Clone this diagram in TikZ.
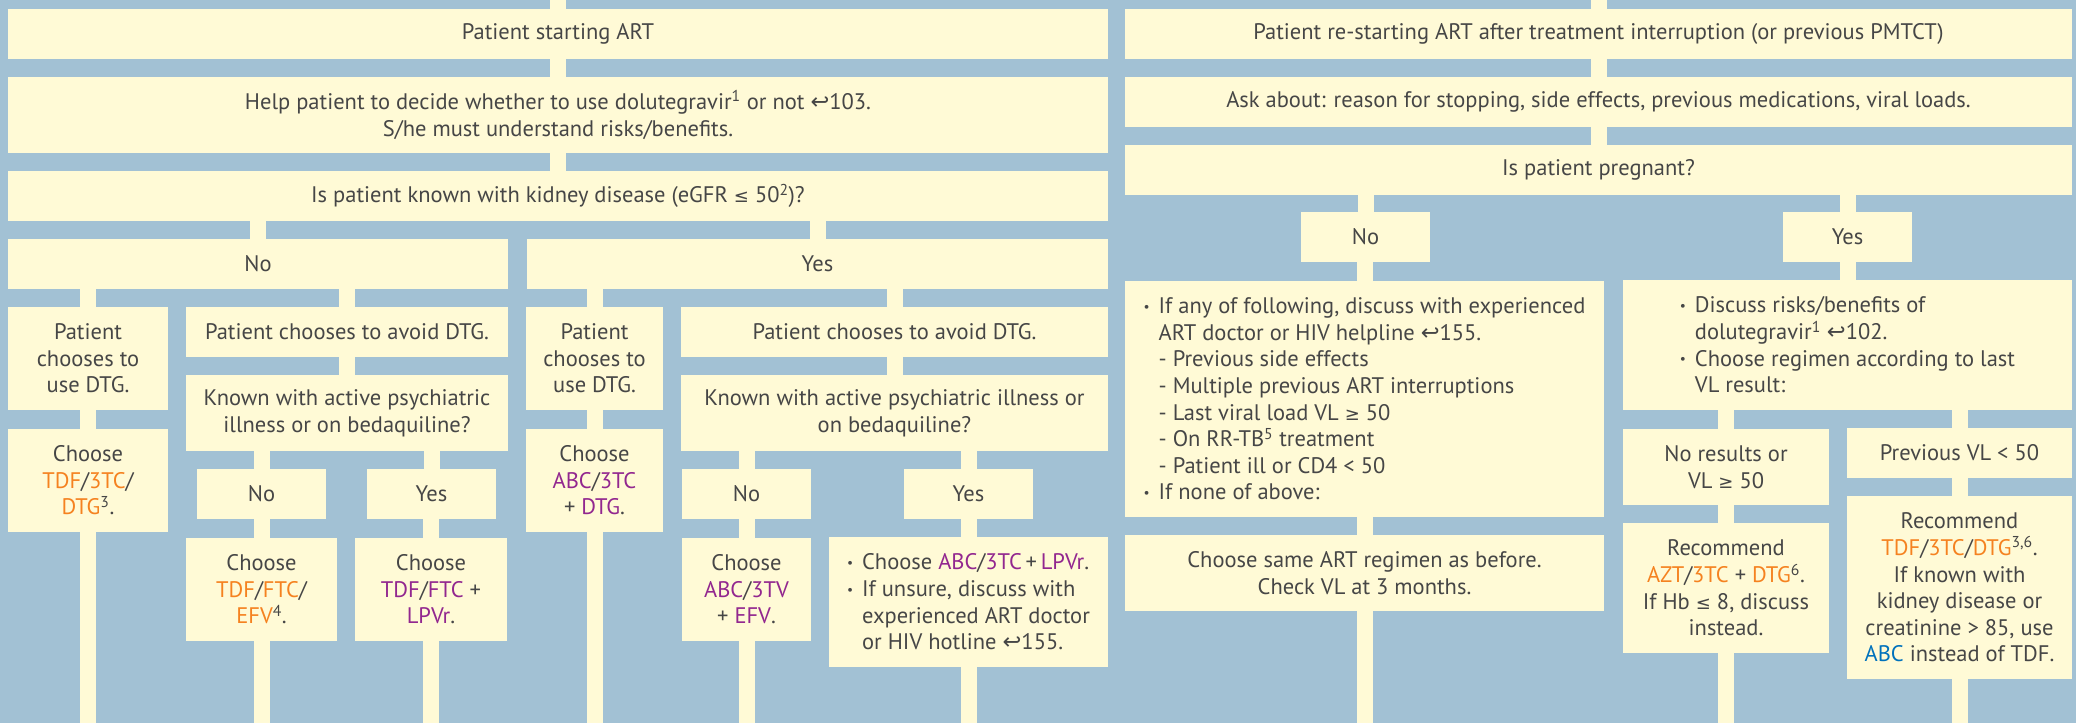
\documentclass[tikz,border=0pt]{standalone}
\usepackage{graphicx}
\usepackage{fontspec}
\setmainfont{PT Sans}
\newfontfamily\symfont{DejaVu Sans}[Scale=0.8]
\newfontfamily\arrowfont{DejaVu Sans}

\definecolor{bgblue}{RGB}{162,193,212}
\definecolor{boxfill}{RGB}{255,250,214}
\definecolor{ink}{RGB}{70,70,70}
\definecolor{drugorange}{RGB}{245,130,32}
\definecolor{drugpurple}{RGB}{146,39,143}
\definecolor{drugblue}{RGB}{0,114,188}

\newcommand\orn[1]{\textcolor{drugorange}{#1}}
\newcommand\prp[1]{\textcolor{drugpurple}{#1}}
\newcommand\blu[1]{\textcolor{drugblue}{#1}}
\newcommand\seepg{{\arrowfont ↩}}
\newcommand\gesym{{\symfont ≥}}
\newcommand\lesym{{\symfont ≤}}
\newcommand\bul{\makebox[15pt][l]{\raisebox{0.2ex}{\scalebox{0.6}{•}}}}
\newcommand\ind{\hspace*{15pt}}

\begin{document}
\begin{tikzpicture}[x=1pt, y=-1pt,
	blk/.style={fill=boxfill, text=ink, inner sep=0pt, align=center,
		font=\fontsize{22.5}{26.6}\selectfont},
	sz/.style 2 args={minimum width=#1pt, minimum height=#2pt},
	link/.style={draw=boxfill, line width=16pt}]
	\fill [bgblue] (0, 0) rectangle (2076, 723);
	\useasboundingbox (0, 0) rectangle (2076, 723);
	\coordinate (top) at (0, 0);
	\coordinate (bottom) at (0, 723);

	% patient starting ART
	\node [blk, sz={1100}{50}] (start) at (558, 34) {Patient starting ART};
	\node [blk, sz={1100}{76}] (help) at (558, 115) {Help patient to decide whether to use dolutegravir\textsuperscript{1} or not \seepg103.\\S/he must understand risks/benefits.};
	\node [blk, sz={1100}{50}] (kidney) at (558, 196) {Is patient known with kidney disease (eGFR \lesym\ 50\textsuperscript{2})?};
	\node [blk, sz={500}{50}] (kno) at (258, 264) {No};
	\node [blk, sz={581}{50}] (kyes) at (817.5, 264) {Yes};

	% no kidney disease
	\node [blk, sz={160}{103}] (nuse) at (88, 358.5) {Patient\\chooses to\\use DTG.};
	\node [blk, sz={160}{103}] (nreg) at (88, 480.5) {Choose\\\orn{TDF}/\orn{3TC}/\\\orn{DTG}\textsuperscript{3}.};
	\node [blk, sz={322}{50}] (navoid) at (347, 332) {Patient chooses to avoid DTG.};
	\node [blk, sz={322}{76}] (npsy) at (347, 413) {Known with active psychiatric\\illness or on bedaquiline?};
	\node [blk, sz={129}{50}] (npno) at (261.5, 494) {No};
	\node [blk, sz={129}{50}] (npyes) at (431.5, 494) {Yes};
	\node [blk, sz={151}{103}] (nefv) at (261.5, 589.5) {Choose\\\orn{TDF}/\orn{FTC}/\\\orn{EFV}\textsuperscript{4}.};
	\node [blk, sz={152}{103}] (nlpv) at (431, 589.5) {Choose\\\prp{TDF}/\prp{FTC} +\\\prp{LPVr}.};

	% kidney disease
	\node [blk, sz={137}{103}] (yuse) at (594.5, 358.5) {Patient\\chooses to\\use DTG.};
	\node [blk, sz={137}{103}] (yreg) at (594.5, 480.5) {Choose\\\prp{ABC}/\prp{3TC}\\+ \prp{DTG}.};
	\node [blk, sz={427}{50}] (yavoid) at (894.5, 332) {Patient chooses to avoid DTG.};
	\node [blk, sz={427}{76}] (ypsy) at (894.5, 413) {Known with active psychiatric illness or\\on bedaquiline?};
	\node [blk, sz={129}{50}] (ypno) at (746.5, 494) {No};
	\node [blk, sz={129}{50}] (ypyes) at (968.5, 494) {Yes};
	\node [blk, sz={129}{103}] (yefv) at (746.5, 589.5) {Choose\\\prp{ABC}/\prp{3TV}\\+ \prp{EFV}.};
	\node [blk, sz={279}{130}, align=left] (ylpv) at (968.5, 602) {\bul Choose \prp{ABC}/\prp{3TC}\,+\,\prp{LPVr}.\\\bul If unsure, discuss with\\\ind experienced ART doctor\\\ind or HIV hotline \seepg155.};

	% patient re-starting ART
	\node [blk, sz={947}{50}] (restart) at (1598.5, 34) {Patient re-starting ART after treatment interruption (or previous PMTCT)};
	\node [blk, sz={947}{50}] (ask) at (1598.5, 102) {Ask about: reason for stopping, side effects, previous medications, viral loads.};
	\node [blk, sz={947}{50}] (preg) at (1598.5, 170) {Is patient pregnant?};
	\node [blk, sz={129}{50}] (pno) at (1365.5, 237) {No};
	\node [blk, sz={129}{50}] (pyes) at (1847.5, 237) {Yes};
	\node [blk, sz={479}{236}, align=left] (pcheck) at (1364.5, 399) {\bul If any of following, discuss with experienced\\\ind ART doctor or HIV helpline \seepg155.\\\ind - Previous side effects\\\ind - Multiple previous ART interruptions\\\ind - Last viral load VL \gesym\ 50\\\ind - On RR-TB\textsuperscript{5} treatment\\\ind - Patient ill or CD4 < 50\\\bul If none of above:};
	\node [blk, sz={479}{76}] (psame) at (1364.5, 573) {Choose same ART regimen as before.\\Check VL at 3 months.};
	\node [blk, sz={449}{130}, align=left] (pdisc) at (1847.5, 345) {\bul Discuss risks/benefits of\\\ind dolutegravir\textsuperscript{1} \seepg102.\\\bul Choose regimen according to last\hspace*{12pt}\\\ind VL result:};
	\node [blk, sz={206}{76}] (vlhigh) at (1726, 467) {No results or\\VL \gesym\ 50};
	\node [blk, sz={225}{50}] (vllow) at (1959.5, 453) {Previous VL < 50};
	\node [blk, sz={206}{130}] (azt) at (1726, 588) {Recommend\\\orn{AZT}/\orn{3TC} + \orn{DTG}\textsuperscript{6}.\\If Hb \lesym\ 8, discuss\\instead.};
	\node [blk, sz={225}{183}] (tdf) at (1959.5, 587.5) {Recommend\\\orn{TDF}/\orn{3TC}/\orn{DTG}\textsuperscript{3,6}.\\If known with\\kidney disease or\\creatinine > 85, use\\\blu{ABC} instead of TDF.};

	% stems, left
	\draw [link] (start.north) -- (start.north |- top);
	\draw [link] (help.north) -- (help.north |- start.south);
	\draw [link] (kidney.north) -- (kidney.north |- help.south);
	\draw [link] (kno.north) -- (kno.north |- kidney.south);
	\draw [link] (kyes.north) -- (kyes.north |- kidney.south);
	\draw [link] (nuse.north) -- (nuse.north |- kno.south);
	\draw [link] (navoid.north) -- (navoid.north |- kno.south);
	\draw [link] (nreg.north) -- (nreg.north |- nuse.south);
	\draw [link] (npsy.north) -- (npsy.north |- navoid.south);
	\draw [link] (npno.north) -- (npno.north |- npsy.south);
	\draw [link] (npyes.north) -- (npyes.north |- npsy.south);
	\draw [link] (nefv.north) -- (nefv.north |- npno.south);
	\draw [link] (nlpv.north) -- (nlpv.north |- npyes.south);
	\draw [link] (yuse.north) -- (yuse.north |- kyes.south);
	\draw [link] (yavoid.north) -- (yavoid.north |- kyes.south);
	\draw [link] (yreg.north) -- (yreg.north |- yuse.south);
	\draw [link] (ypsy.north) -- (ypsy.north |- yavoid.south);
	\draw [link] (ypno.north) -- (ypno.north |- ypsy.south);
	\draw [link] (ypyes.north) -- (ypyes.north |- ypsy.south);
	\draw [link] (yefv.north) -- (yefv.north |- ypno.south);
	\draw [link] (ylpv.north) -- (ylpv.north |- ypyes.south);
	\draw [link] (nreg.south) -- (nreg.south |- bottom);
	\draw [link] (nefv.south) -- (nefv.south |- bottom);
	\draw [link] (nlpv.south) -- (nlpv.south |- bottom);
	\draw [link] (yreg.south) -- (yreg.south |- bottom);
	\draw [link] (yefv.south) -- (yefv.south |- bottom);
	\draw [link] (ylpv.south) -- (ylpv.south |- bottom);

	% stems, right
	\draw [link] (restart.north) -- (restart.north |- top);
	\draw [link] (ask.north) -- (ask.north |- restart.south);
	\draw [link] (preg.north) -- (preg.north |- ask.south);
	\draw [link] (pno.north) -- (pno.north |- preg.south);
	\draw [link] (pyes.north) -- (pyes.north |- preg.south);
	\draw [link] (pcheck.north) -- (pcheck.north |- pno.south);
	\draw [link] (psame.north) -- (psame.north |- pcheck.south);
	\draw [link] (pdisc.north) -- (pdisc.north |- pyes.south);
	\draw [link] (vlhigh.north) -- (vlhigh.north |- pdisc.south);
	\draw [link] (vllow.north) -- (vllow.north |- pdisc.south);
	\draw [link] (azt.north) -- (azt.north |- vlhigh.south);
	\draw [link] (tdf.north) -- (tdf.north |- vllow.south);
	\draw [link] (psame.south) -- (psame.south |- bottom);
	\draw [link] (azt.south) -- (azt.south |- bottom);
	\draw [link] (tdf.south) -- (tdf.south |- bottom);
\end{tikzpicture}
\end{document}
